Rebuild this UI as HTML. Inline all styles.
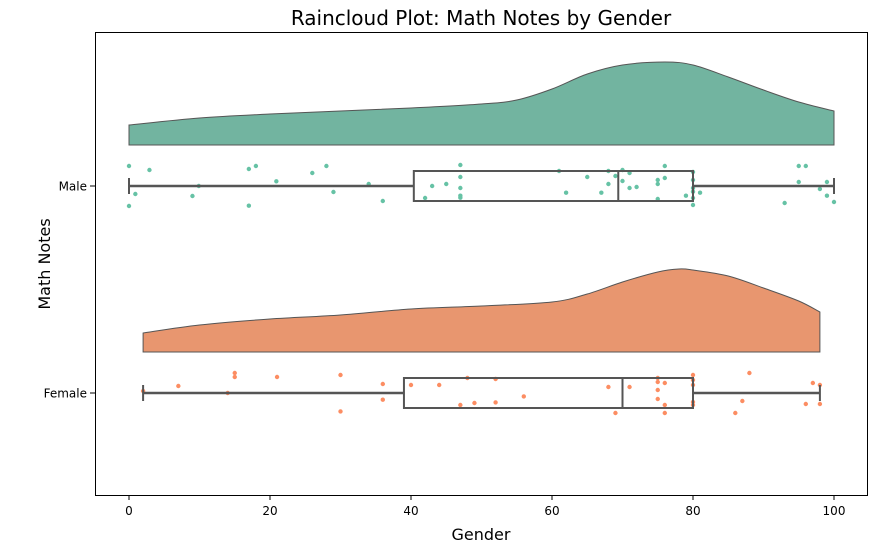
<!DOCTYPE html>
<html><head><meta charset="utf-8"><style>
body{margin:0;background:#fff;font-family:"DejaVu Sans","Liberation Sans",sans-serif}
svg text{font-family:"DejaVu Sans","Liberation Sans",sans-serif;fill:#000}
</style></head><body>
<svg id="c" width="878" height="553"></svg>
<script>
const categories=["Male","Female"];
const maleVals=[0,2.9,0,0.9,9.9,9,17,18,17,20.9,26,28,29,34,36,42,43,45,47,47,47,47,47,61,62,65,67,68,68,69,70,70,71,71,72,75,75,75,76,76,79,80,80,80,80,80,80,81,93,95,96,95,98,99,99,100];
const maleJit=[-20,-16,20,8,0,10,-17,-20,19.7,-4.7,-13,-20,6,-2,15,12,0,-2,-21,-9,2,9.7,11.7,-15,6.7,-9,6.7,-15,-2,-10,-16,-5,-13,2,1,-6,-2,13,-20,-8,9.7,-14,-6,2,5.7,12,19,6.7,17,-20,-20,-4,3,-4,9.7,16];
const femaleVals=[2,7,14,15,15,21,30,30,36,36,40,44,47,48,49,52,52,56,68,69,71,75,75,75,75,76,76,76,80,80,80,80,80,87,86,88,96,97,98,98];
const femaleJit=[-2,-7,0,-20,-16,-16,-18,18.4,-9,6.7,-8,-8,12,-15,10,-14,9.4,3.4,-6,20,-6,-15,-11,-3,6,-10,12,20,-18,-13,-8,9,12,8,20,-20,11,-10,-8,11];
const maleStats=[0,40.4,69.4,80,100];
const femaleStats=[2,39,70,80,98];
const maleDensX=[0,10,20,30,40,50,55,60,65,70,76,80,85,90,95,100];
const maleDensH=[20,27,31,34,37,41,45,56,71,80,83,80,68,55,43,34];
const femDensX=[2,10,20,30,40,50,60,65,70,75,78,80,85,90,95,98];
const femDensH=[19,27,33,37,43,46,50,58,70,80,83,82,76,64,51,40];
const xTicks=[0,20,40,60,80,100];

const NS="http://www.w3.org/2000/svg",svg=document.getElementById('c');
const X=v=>129+7.05*v;
function el(t,a,p){const e=document.createElementNS(NS,t);for(const k in a)e.setAttribute(k,a[k]);(p||svg).appendChild(e);return e;}
const frame=el('rect',{x:95.5,y:32.5,width:772,height:463,fill:'none',stroke:'#000','stroke-width':1});

function smooth(pts){let d='';for(let i=0;i<pts.length-1;i++){const p0=pts[Math.max(0,i-1)],p1=pts[i],p2=pts[i+1],p3=pts[Math.min(pts.length-1,i+2)];
  const c1=[p1[0]+(p2[0]-p0[0])/6,p1[1]+(p2[1]-p0[1])/6],c2=[p2[0]-(p3[0]-p1[0])/6,p2[1]-(p3[1]-p1[1])/6];
  d+=' C'+c1[0]+','+c1[1]+' '+c2[0]+','+c2[1]+' '+p2[0]+','+p2[1];}return d;}
function group(name,cy,baseY,dx,dh,vals,jit,st,fill,pt){
  const pts=dx.map((v,i)=>[X(v),baseY-dh[i]]);
  let d='M'+X(dx[0])+','+baseY+' L'+pts[0][0]+','+pts[0][1]+smooth(pts)+' L'+X(dx[dx.length-1])+','+baseY+' Z';
  const v=el('path',{d:d,fill:fill,stroke:'#555','stroke-width':1});
  
  vals.forEach((val,i)=>{const c=el('circle',{cx:X(val),cy:cy+jit[i],r:2.2,fill:pt});
    });
  const g=el('g',{stroke:'#555','stroke-width':2,fill:'none'});
  
  el('line',{x1:X(st[0]),x2:X(st[1]),y1:cy,y2:cy,'stroke-width':2.5},g);
  el('line',{x1:X(st[3]),x2:X(st[4]),y1:cy,y2:cy,'stroke-width':2.5},g);
  el('line',{x1:X(st[0]),x2:X(st[0]),y1:cy-8,y2:cy+8},g);
  el('line',{x1:X(st[4]),x2:X(st[4]),y1:cy-8,y2:cy+8},g);
  el('rect',{x:X(st[1]),y:cy-15,width:X(st[3])-X(st[1]),height:30},g);
  el('line',{x1:X(st[2]),x2:X(st[2]),y1:cy-15,y2:cy+15},g);
}
group('male',186,145,maleDensX,maleDensH,maleVals,maleJit,maleStats,'#72b4a0','#66c2a5');
group('female',393,352,femDensX,femDensH,femaleVals,femaleJit,femaleStats,'#e8966f','#fc8d62');
xTicks.forEach(t=>{el('line',{x1:X(t),x2:X(t),y1:495,y2:500,stroke:'#000'});
  const tx=el('text',{x:X(t),y:515,'text-anchor':'middle','font-size':12});tx.textContent=t;
  });
[186,393].forEach((y,i)=>{el('line',{x1:90,x2:95,y1:y,y2:y,stroke:'#000'});
  const tx=el('text',{x:87,y:y+4.5,'text-anchor':'end','font-size':12});tx.textContent=categories[i];
  });
const tt=el('text',{x:481,y:25,'text-anchor':'middle','font-size':20});tt.textContent='Raincloud Plot: Math Notes by Gender';

const xl=el('text',{x:481,y:540,'text-anchor':'middle','font-size':16});xl.textContent='Gender';

const yl=el('text',{x:0,y:0,'text-anchor':'middle','font-size':16,transform:'translate(50,264) rotate(-90)'});yl.textContent='Math Notes';

</script>
</body></html>
